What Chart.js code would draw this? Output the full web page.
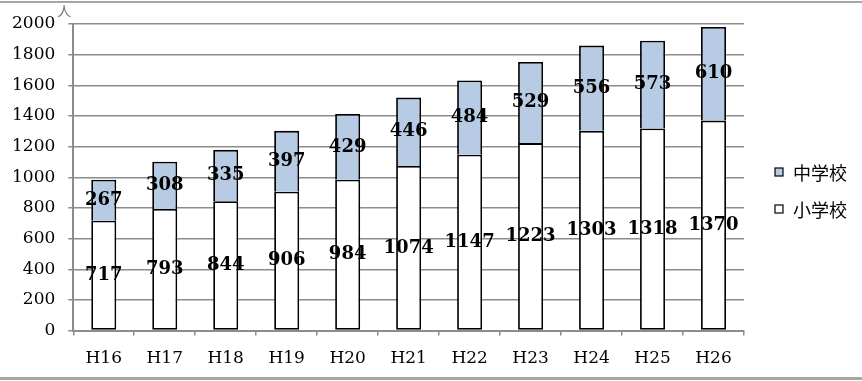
<!DOCTYPE html>
<html>
<head>
<meta charset="utf-8">
<script src="https://cdn.jsdelivr.net/npm/chart.js@4"></script>
<style>
  html, body { margin: 0; padding: 0; background: #fff; }
  #wrap { position: relative; width: 862px; height: 381px; }
  #c { position: absolute; left: 0; top: 0; }
  .hl { position: absolute; left: 0; width: 862px; background: #a6a6a6; }
</style>
</head>
<body>
<div id="wrap">
  <canvas id="c" width="862" height="381"></canvas>
  <div class="hl" style="top:1px;height:2px;"></div>
  <div class="hl" style="top:377px;height:3px;"></div>
</div>
<script>
const categories = ['H16','H17','H18','H19','H20','H21','H22','H23','H24','H25','H26'];
const elementary = [717, 793, 844, 906, 984, 1074, 1147, 1223, 1303, 1318, 1370];
const juniorHigh = [267, 308, 335, 397, 429, 446, 484, 529, 556, 573, 610];
const seriesNames = ['小学校', '中学校'];
const yTicks = [0, 200, 400, 600, 800, 1000, 1200, 1400, 1600, 1800, 2000];
const unitLabel = '人';

const serif = "'DejaVu Serif', 'Liberation Serif', serif";
const cjk = "'Noto Sans CJK JP', 'Noto Sans', sans-serif";

const valueLabels = {
  id: 'valueLabels',
  afterDatasetsDraw(chart) {
    const ctx = chart.ctx;
    ctx.save();
    ctx.font = 'bold 18px ' + serif;
    ctx.fillStyle = '#000';
    ctx.textAlign = 'center';
    ctx.textBaseline = 'middle';
    chart.data.datasets.forEach((ds, di) => {
      const meta = chart.getDatasetMeta(di);
      meta.data.forEach((el, i) => {
        const y = (el.y + el.base) / 2;
        ctx.fillText(String(ds.data[i]), el.x, y);
      });
    });
    ctx.restore();
  }
};

const sideLegend = {
  id: 'sideLegend',
  afterDraw(chart) {
    const ctx = chart.ctx;
    const area = chart.chartArea;
    ctx.save();
    ctx.font = '18px ' + cjk;
    ctx.textBaseline = 'middle';
    ctx.textAlign = 'left';
    const items = chart.data.datasets.slice().reverse();
    const x0 = area.right + 31;
    const yStart = 172;
    items.forEach((ds, k) => {
      const y = yStart + k * 37;
      ctx.fillStyle = ds.backgroundColor;
      ctx.fillRect(x0, y - 4, 8, 8);
      ctx.strokeStyle = '#000';
      ctx.lineWidth = 1.2;
      ctx.strokeRect(x0, y - 4, 8, 8);
      ctx.fillStyle = '#000';
      ctx.fillText(ds.label, x0 + 18, y + 1);
    });
    ctx.font = '14px ' + cjk;
    ctx.fillStyle = '#777';
    ctx.textAlign = 'center';
    ctx.fillText(unitLabel, area.left - 9, area.top - 13);
    ctx.restore();
  }
};

new Chart(document.getElementById('c'), {
  type: 'bar',
  data: {
    labels: categories,
    datasets: [
      {
        label: seriesNames[0],
        data: elementary,
        backgroundColor: '#ffffff',
        borderColor: '#000000',
        borderWidth: 1.8,
        borderSkipped: false,
        categoryPercentage: 1,
        barPercentage: 0.41
      },
      {
        label: seriesNames[1],
        data: juniorHigh,
        backgroundColor: '#b7cbe4',
        borderColor: '#000000',
        borderWidth: 1.8,
        borderSkipped: 'start',
        categoryPercentage: 1,
        barPercentage: 0.41
      }
    ]
  },
  options: {
    responsive: false,
    animation: false,
    layout: { padding: { left: -1, right: 118, top: 24, bottom: -1 } },
    plugins: {
      legend: { display: false },
      tooltip: { enabled: false }
    },
    scales: {
      x: {
        stacked: true,
        grid: { drawOnChartArea: false, drawTicks: true, tickLength: 5, color: '#8c8c8c', lineWidth: 1.5, offset: true },
        border: { color: '#8c8c8c', width: 2 },
        ticks: { font: { family: serif, size: 17 }, color: '#000', padding: 13 }
      },
      y: {
        stacked: true,
        min: 0,
        max: 2000,
        afterBuildTicks(axis) { axis.ticks = yTicks.map(v => ({ value: v })); },
        grid: { color: '#8c8c8c', lineWidth: 1.5, tickLength: 5 },
        border: { color: '#8c8c8c', width: 2 },
        ticks: { font: { family: serif, size: 17 }, color: '#000', padding: 13, callback: (v) => String(v) }
      }
    }
  },
  plugins: [valueLabels, sideLegend]
});
</script>
</body>
</html>
